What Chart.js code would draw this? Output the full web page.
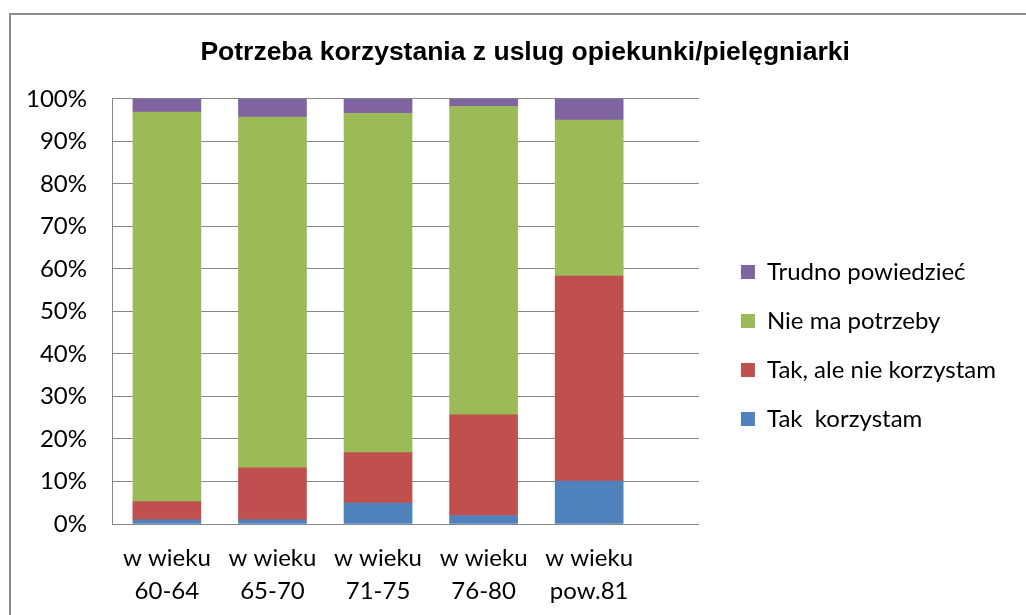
<!DOCTYPE html>
<html>
<head>
<meta charset="utf-8">
<script src="https://cdn.jsdelivr.net/npm/chart.js@4"></script>
<style>
    body { margin: 0; background: #fff; overflow: hidden; }
    #frame { position: absolute; left: 9px; top: 13px; width: 1100px; height: 700px; border: 2px solid #8c8c8c; }
    #CHART { position: absolute; left: 0; top: 0; }
</style>
</head>
<body>
<div id="frame"></div>
<canvas id="CHART" width="1026" height="615"></canvas>
<script>
"use strict"

const title = "Potrzeba korzystania z uslug opiekunki/pielęgniarki"
const categories = [["w wieku", "60-64"], ["w wieku", "65-70"], ["w wieku", "71-75"], ["w wieku", "76-80"], ["w wieku", "pow.81"]]
const tak_korzystam = [1.0, 1.0, 4.9, 2.0, 10.1]
const tak_ale_nie = [4.3, 12.2, 11.9, 23.7, 48.2]
const nie_ma_potrzeby = [91.6, 82.5, 79.8, 72.5, 36.7]
const trudno = [3.1, 4.3, 3.4, 1.8, 5.0]
const yticks = [0, 10, 20, 30, 40, 50, 60, 70, 80, 90, 100]

const font = "Lato"
const font_size = 24
const title_font = { family: "Liberation Sans", size: 26.5, weight: "bold", lineHeight: 1.2 }
const grey = "#868686"

// legend should start at x=716 (box at 742): pad the right side by what is left over
// (chart.js legend width = padding + box + font/2 + text + 10)
const ctx = document.createElement("canvas").getContext("2d")
ctx.font = `${font_size}px ${font}`
const legend_text_w = Math.max(...["Tak, ale nie korzystam", "Trudno powiedzieć"].map(t => ctx.measureText(t).width))
const right_pad = Math.max(0, Math.round(1026 - 716 - 61 - legend_text_w))

// title is centred on x=525 in the original, a bit right of the free width: nudge with leading spaces
ctx.font = `bold ${title_font.size}px ${title_font.family}`
const title_shift = 525 - (1026 - right_pad) / 2
const title_spaces = Math.max(0, Math.round(2 * title_shift / ctx.measureText(" ").width))

function series(label, values, color) {
    return {
        label: label,
        data: values.map((v, i) => ({ x: i, y: v })),
        backgroundColor: color,
        borderWidth: 0,
        barThickness: 68,
    }
}

new Chart(CHART, {
    type: "bar",
    data: {
        datasets: [
            series("Tak  korzystam", tak_korzystam, "#4f81bd"),
            series("Tak, ale nie korzystam", tak_ale_nie, "#c0504d"),
            series("Nie ma potrzeby", nie_ma_potrzeby, "#9bbb59"),
            series("Trudno powiedzieć", trudno, "#8064a2"),
        ]
    },
    options: {
        animation: false,
        responsive: false,
        maintainAspectRatio: false,
        layout: { padding: { right: right_pad } },
        plugins: {
            tooltip: { enabled: false },
            title: {
                display: true,
                text: " ".repeat(title_spaces) + title,
                color: "#000",
                font: title_font,
                padding: { top: 37, bottom: 30 },
            },
            legend: {
                position: "right",
                reverse: true,
                maxWidth: 400,
                // empty title only pushes the items down
                title: { display: true, text: " ", font: { size: 10, lineHeight: 1 }, padding: { top: 66, bottom: 0 } },
                labels: {
                    boxWidth: 14,
                    boxHeight: 14,
                    padding: 25,
                    color: "#000",
                    font: { family: font, size: font_size },
                },
            },
        },
        scales: {
            x: {
                type: "linear",
                stacked: true,
                offset: false,
                min: -0.52,
                max: 5.04,
                grid: { display: false },
                border: { display: true, color: grey },
                afterBuildTicks: axis => axis.ticks = categories.map((c, i) => ({ value: i })),
                afterFit: scale => scale.height = 91,
                ticks: {
                    autoSkip: false,
                    maxRotation: 0,
                    padding: 10,
                    color: "#000",
                    font: { family: font, size: font_size, lineHeight: 1.38 },
                    callback: value => categories[value],
                },
            },
            y: {
                stacked: true,
                min: 0,
                max: 100,
                grid: { color: grey, drawTicks: false },
                border: { display: true, color: grey },
                afterBuildTicks: axis => axis.ticks = yticks.map(v => ({ value: v })),
                afterFit: scale => scale.width = 112,
                ticks: {
                    padding: 25,
                    color: "#000",
                    font: { family: font, size: font_size },
                    callback: value => value + "%",
                },
            },
            gap: {
                axis: "y",
                position: "right",
                grid: { display: false },
                border: { display: false },
                ticks: { display: false },
                afterFit: scale => scale.width = 17,
            },
        },
    },
})
</script>
</body>
</html>
